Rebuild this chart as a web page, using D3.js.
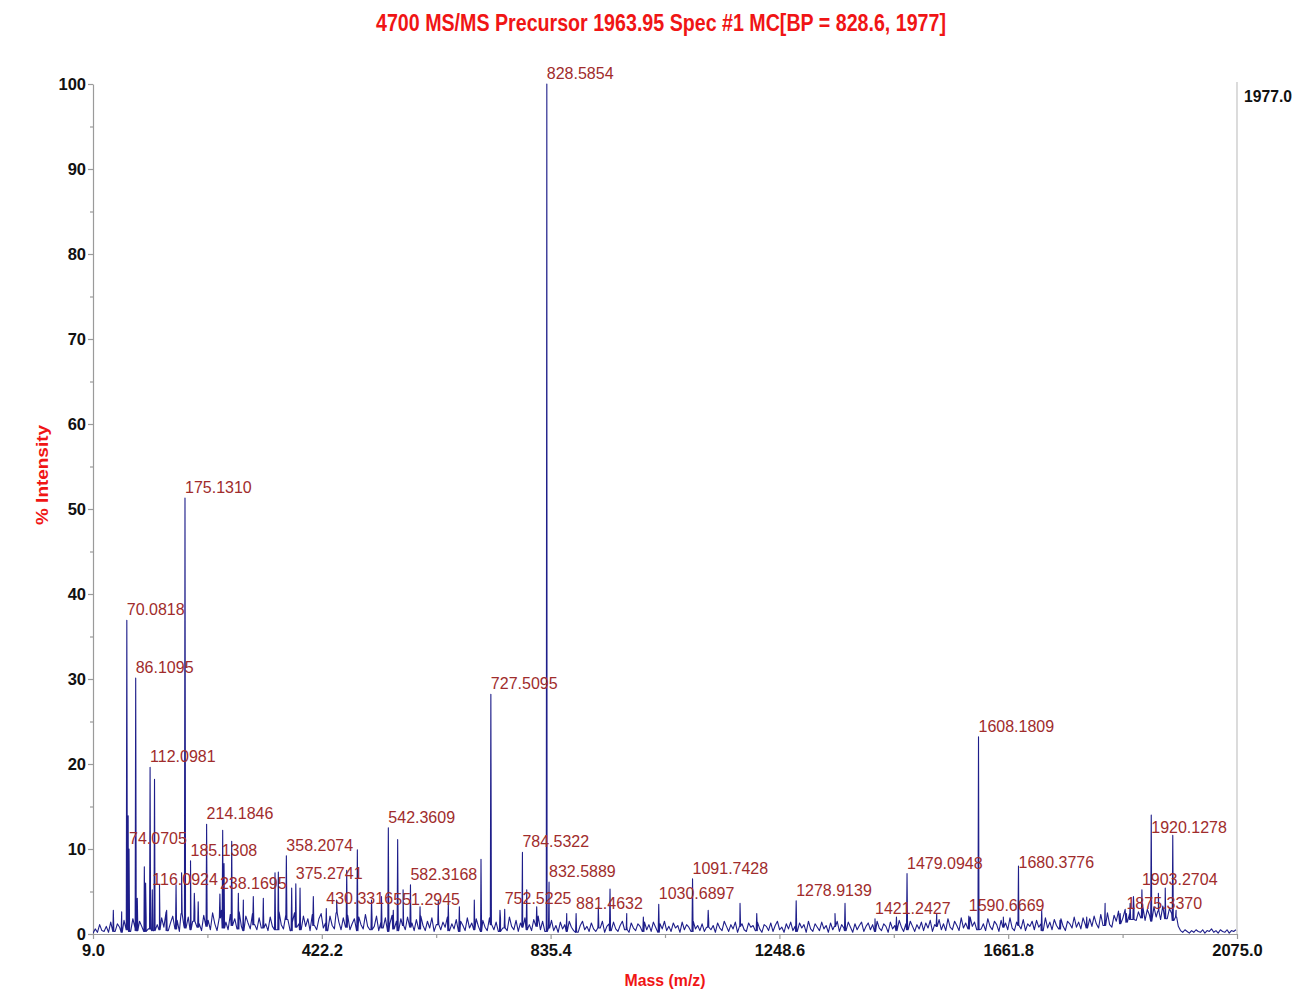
<!DOCTYPE html>
<html>
<head>
<meta charset="utf-8">
<script src="https://cdn.jsdelivr.net/npm/d3@7"></script>
<style>
  html, body { margin: 0; padding: 0; background: #ffffff; }
  svg { display: block; font-family: "Liberation Sans", Arial, sans-serif; }
</style>
</head>
<body>
<svg id="chart" width="1310" height="992"></svg>
<script>
// ---- Spectrum data -------------------------------------------------------
const titleText = "4700 MS/MS Precursor 1963.95 Spec #1 MC[BP = 828.6, 1977]";
const precursorText = "1977.0";
const xTickValues = [9.0, 422.2, 835.4, 1248.6, 1661.8, 2075.0];
const xMinorTicks = [215.6, 628.8, 1042.0, 1455.2, 1868.4];
const yTickValues = [0, 10, 20, 30, 40, 50, 60, 70, 80, 90, 100];
const yMinorTicks = [5, 15, 25, 35, 45, 55, 65, 75, 85, 95];

// Noise floor: % intensity every 4 m/z, starting at m/z 9 (one row per 100 m/z)
const noiseStart = 9;
const noiseStep = 4;
const noiseFloor = [
  0.1,0.6,0.2,1.1,0.4,0.3,0.9,0.2,1.4,0.6,0.3,1.2,0.8,0.2,1.6,0.5,1.0,0.3,1.8,0.7,0.4,1.5,0.9,0.3,2.0,
  0.6,1.7,0.4,2.3,1.1,0.5,1.9,0.8,2.6,0.4,1.3,2.1,0.6,1.6,0.3,2.4,1.0,0.7,2.0,0.5,1.5,2.7,0.8,1.2,0.4,
  2.2,0.9,1.6,0.5,2.5,1.2,0.4,1.9,2.8,0.7,1.4,0.5,2.3,1.0,1.8,0.6,2.6,0.9,0.4,2.1,1.3,0.6,2.4,1.1,0.5,
  1.9,0.7,2.4,1.2,0.4,2.0,0.9,1.5,0.5,2.6,1.1,0.6,2.2,1.7,0.4,1.4,2.5,0.8,1.2,0.5,2.1,0.9,1.8,0.4,2.3,
  1.0,0.5,1.8,2.4,0.7,1.3,0.4,2.1,1.0,0.6,2.5,1.4,0.5,1.9,0.8,2.2,0.5,1.2,1.8,0.4,2.0,1.1,0.6,2.3,0.9,
  0.5,1.7,0.9,2.1,0.4,1.4,0.7,1.9,0.3,1.2,2.2,0.6,1.5,0.4,1.8,1.0,0.5,2.0,0.8,1.3,0.4,1.7,0.6,2.1,1.0,
  0.4,1.5,0.7,1.9,0.3,1.1,1.8,0.5,1.4,0.8,2.0,0.4,1.2,0.6,1.7,0.3,1.5,1.0,0.4,1.9,0.7,1.3,0.5,1.8,0.9,
  0.3,1.6,0.8,0.4,1.9,1.1,0.5,1.4,0.3,1.8,0.7,1.2,0.4,2.0,0.9,0.5,1.6,0.3,1.3,0.8,1.9,0.5,1.1,0.4,1.7,
  0.9,2.1,0.5,1.5,0.3,1.2,0.7,1.6,0.4,1.0,0.2,1.4,0.6,1.1,0.3,1.5,0.8,0.4,1.3,0.2,1.0,1.5,0.5,0.9,0.3,
  1.3,0.6,0.3,1.1,0.7,1.5,0.2,0.9,1.2,0.4,1.4,0.6,0.3,1.0,1.5,0.5,0.8,0.2,1.3,0.7,0.4,1.2,0.9,0.3,1.4,
  0.5,1.1,0.3,1.4,0.8,0.2,1.2,0.6,1.5,0.4,0.9,0.3,1.3,0.7,1.0,0.2,1.4,0.5,1.1,0.8,0.3,1.5,0.6,1.0,0.4,
  1.2,0.3,0.8,1.4,0.5,1.0,0.2,1.3,0.7,0.4,1.5,0.9,0.3,1.1,0.6,1.4,0.2,0.9,1.2,0.5,0.3,1.3,0.8,1.0,0.4,
  1.4,0.6,0.2,1.1,0.9,0.4,1.3,0.3,1.0,1.5,0.5,0.8,0.2,1.2,0.6,1.4,0.4,0.9,0.3,1.3,0.7,1.1,0.2,1.5,0.6,
  0.3,1.2,0.8,0.4,1.4,0.6,1.0,0.2,1.3,0.5,0.9,1.5,0.3,1.1,0.7,0.4,1.4,0.8,0.2,1.2,0.5,1.0,1.4,0.3,0.9,
  1.3,0.5,1.1,0.3,1.5,0.7,0.4,1.2,0.9,0.2,1.4,0.6,1.0,0.4,1.6,0.8,0.3,1.2,0.5,1.5,0.9,0.3,1.1,0.6,1.4,
  0.4,1.3,0.7,1.6,0.3,1.1,0.9,1.7,0.5,1.2,0.4,1.8,0.8,0.5,1.5,1.0,0.4,1.9,0.7,1.3,0.6,2.0,0.9,1.4,0.5,
  1.7,0.6,1.2,0.4,1.8,0.9,0.5,1.5,1.1,0.3,1.6,0.8,1.3,0.5,1.9,0.7,0.4,1.4,1.0,0.6,1.7,0.4,1.2,0.9,1.5,
  0.5,1.6,0.8,1.2,0.4,1.9,0.7,1.4,0.5,1.7,1.0,0.6,1.8,0.9,0.4,1.5,1.2,0.7,2.0,0.8,1.4,0.6,1.9,1.1,0.7,
  1.8,0.9,2.1,1.2,0.7,2.3,1.0,1.7,2.5,1.1,0.8,2.2,1.5,2.7,1.2,1.9,2.9,1.4,2.4,1.7,3.1,1.6,2.6,1.9,3.2,
  1.6,2.9,2.2,1.5,3.2,2.0,2.7,1.7,3.3,2.3,1.8,3.0,2.4,1.6,2.8,0.9,0.4,0.2,0.5,0.3,0.1,0.4,0.2,0.5,0.3,
  0.2,0.5,0.1,0.4,0.3,0.6,0.2,0.4,0.1,0.5,0.3,0.2,0.5,0.1,0.4,0.3,0.5
];

// Annotated peaks: m/z label and % intensity
const labeledMz = [
  "70.0818","74.0705","86.1095","112.0981","116.0924","175.1310","185.1308",
  "214.1846","238.1695","358.2074","375.2741","430.3316","542.3609","551.2945",
  "582.3168","727.5095","752.5225","784.5322","828.5854","832.5889","881.4632",
  "1030.6897","1091.7428","1278.9139","1421.2427","1479.0948","1590.6669",
  "1608.1809","1680.3776","1875.3370","1903.2704","1920.1278"
];
const labeledIntensity = [
  36.9, 10.0, 30.1, 19.6, 5.2, 51.3, 8.6,
  12.9, 4.7, 9.2, 5.9, 3.0, 12.5, 2.8,
  5.8, 28.2, 2.9, 9.6, 100, 6.1, 2.4,
  3.5, 6.5, 3.9, 1.8, 7.1, 2.1,
  23.2, 8.0, 2.4, 5.2, 14.0
];

// Unannotated fragment peaks: m/z and % intensity
const minorMz = [
  45.7, 60.8, 72.5, 89.0, 101.7, 104.0, 120.1, 129.1, 142.0, 159.0, 169.0, 192.0,
  199.0, 243.2, 245.6, 259.5, 271.5, 280.5, 298.5, 316.6, 337.7, 343.7, 367.8,
  382.9, 406.9, 449.0, 467.2, 486.4, 512.0, 530.0, 559.2, 569.0, 599.6, 632.6,
  650.7, 670.6, 697.6, 709.7, 744.0, 792.3, 810.3, 864.5, 921.6, 942.7, 972.9,
  1002.9, 1120.0, 1177.5, 1207.7, 1349.0, 1367.1, 1460.0, 1532.7, 1653.0, 1722.3,
  1755.4, 1803.6, 1836.8, 1864.0, 1882.0, 1888.0, 1933.0, 1945.4, 1959.0, 1965.0
];
const minorIntensity = [
  2.8, 2.6, 13.9, 4.2, 7.9, 6.0, 18.2, 5.8, 2.8, 5.8, 7.2, 4.8,
  3.8, 12.2, 8.3, 10.9, 4.8, 4.0, 4.4, 4.2, 7.2, 7.3, 5.4,
  5.4, 4.4, 4.0, 7.5, 9.9, 4.0, 4.4, 11.1, 5.2, 3.2, 4.0,
  3.6, 3.2, 4.0, 8.8, 2.8, 5.2, 3.2, 2.4, 3.2, 5.3, 2.4,
  2.0, 2.8, 3.6, 2.4, 2.4, 3.6, 2.0, 2.4, 2.0, 2.8,
  1.6, 2.0, 3.6, 2.4, 3.6, 4.4, 4.8, 5.4, 11.6, 2.0
];

// ---- Layout ---------------------------------------------------------------
const svg = d3.select("#chart");
const plot = { left: 93, right: 1237, top: 84, bottom: 934 };
const x = d3.scaleLinear().domain([9.0, 2075.0]).range([plot.left, plot.right]);
const y = d3.scaleLinear().domain([0, 100]).range([plot.bottom, plot.top]);

const axisGrey = "#9a9a9a";
const titleRed = "#f01515";
const peakLabelRed = "#a02c2c";
const traceBlue = "#1e1e8a";

// Vertical offsets for peak labels that the acquisition software shifted
const labelShift = { "1920.1278": 23, "1680.3776": 7 };

// ---- Build the profile trace -----------------------------------------------
const noisePts = noiseFloor.map((v, i) => ({ mz: noiseStart + i * noiseStep, v }));
function floorAt(mz) {
  const t = (mz - noiseStart) / noiseStep;
  const clampI = i => Math.max(0, Math.min(noiseFloor.length - 1, i));
  return Math.min(noiseFloor[clampI(Math.floor(t))], noiseFloor[clampI(Math.ceil(t))]);
}
const peaks = [];
labeledMz.forEach((m, i) => peaks.push({ mz: +m, v: labeledIntensity[i] }));
minorMz.forEach((m, i) => peaks.push({ mz: m, v: minorIntensity[i] }));

const profile = noisePts.slice();
peaks.forEach(p => {
  const b = Math.min(floorAt(p.mz), p.v);
  profile.push({ mz: p.mz - 1.0, v: b });
  profile.push({ mz: p.mz, v: p.v });
  profile.push({ mz: p.mz + 1.0, v: b });
});
profile.sort((a, b) => a.mz - b.mz);

svg.append("defs").append("clipPath").attr("id", "plotClip")
  .append("rect")
  .attr("x", plot.left).attr("y", plot.top - 2)
  .attr("width", plot.right - plot.left).attr("height", plot.bottom - plot.top + 2);

// ---- Frame & axes ----------------------------------------------------------
svg.append("line")
  .attr("x1", plot.right).attr("x2", plot.right)
  .attr("y1", plot.top - 2).attr("y2", plot.bottom)
  .attr("stroke", "#c4c4c4").attr("stroke-width", 1.2);

svg.append("g")
  .attr("transform", `translate(${plot.left},0)`)
  .call(d3.axisLeft(y).tickValues(yTickValues).tickSize(5).tickSizeOuter(0)
    .tickPadding(2).tickFormat(d3.format("d")));
svg.append("g")
  .attr("transform", `translate(${plot.left},0)`)
  .call(d3.axisLeft(y).tickValues(yMinorTicks).tickSize(3).tickSizeOuter(0).tickFormat(""))
  .call(g => g.select(".domain").remove());

svg.append("g")
  .attr("transform", `translate(0,${plot.bottom})`)
  .call(d3.axisBottom(x).tickValues(xTickValues).tickSize(5).tickSizeOuter(0)
    .tickPadding(5).tickFormat(d3.format(".1f")));
svg.append("g")
  .attr("transform", `translate(0,${plot.bottom})`)
  .call(d3.axisBottom(x).tickValues(xMinorTicks).tickSize(4).tickSizeOuter(0).tickFormat(""))
  .call(g => g.select(".domain").remove());

svg.selectAll(".domain").attr("stroke", axisGrey).attr("stroke-width", 1.2);
svg.selectAll(".tick line").attr("stroke", axisGrey).attr("stroke-width", 1.2);
svg.selectAll(".tick text")
  .attr("fill", "#111")
  .attr("font-family", "'Liberation Sans', Arial, sans-serif")
  .attr("font-weight", "bold")
  .attr("font-size", 16.5);

// ---- Spectrum trace --------------------------------------------------------
const line = d3.line().x(d => x(d.mz)).y(d => y(d.v));
svg.append("path")
  .datum(profile)
  .attr("clip-path", "url(#plotClip)")
  .attr("d", line)
  .attr("fill", "none")
  .attr("stroke", traceBlue)
  .attr("stroke-width", 1.1)
  .attr("stroke-linejoin", "round");

// ---- Peak annotations ------------------------------------------------------
svg.append("g").selectAll("text")
  .data(labeledMz.map((m, i) => ({ text: m, mz: +m, v: labeledIntensity[i] })))
  .join("text")
  .attr("x", d => x(d.mz))
  .attr("y", d => y(d.v) - 5 + (labelShift[d.text] || 0))
  .attr("fill", peakLabelRed)
  .attr("font-size", 16)
  .text(d => d.text);

// ---- Titles ----------------------------------------------------------------
svg.append("text")
  .attr("x", 661).attr("y", 31)
  .attr("text-anchor", "middle")
  .attr("fill", titleRed)
  .attr("font-weight", "bold")
  .attr("font-size", 24)
  .attr("textLength", 570)
  .attr("lengthAdjust", "spacingAndGlyphs")
  .text(titleText);

svg.append("text")
  .attr("x", 1244).attr("y", 102)
  .attr("fill", "#111")
  .attr("font-weight", "bold")
  .attr("font-size", 16)
  .attr("textLength", 48)
  .attr("lengthAdjust", "spacingAndGlyphs")
  .text(precursorText);

svg.append("text")
  .attr("transform", "translate(48,475) rotate(-90)")
  .attr("text-anchor", "middle")
  .attr("fill", titleRed)
  .attr("font-weight", "bold")
  .attr("font-size", 17)
  .attr("textLength", 100)
  .attr("lengthAdjust", "spacingAndGlyphs")
  .text("% Intensity");

svg.append("text")
  .attr("x", 665).attr("y", 986)
  .attr("text-anchor", "middle")
  .attr("fill", titleRed)
  .attr("font-weight", "bold")
  .attr("font-size", 17)
  .attr("textLength", 81)
  .attr("lengthAdjust", "spacingAndGlyphs")
  .text("Mass (m/z)");
</script>
</body>
</html>
